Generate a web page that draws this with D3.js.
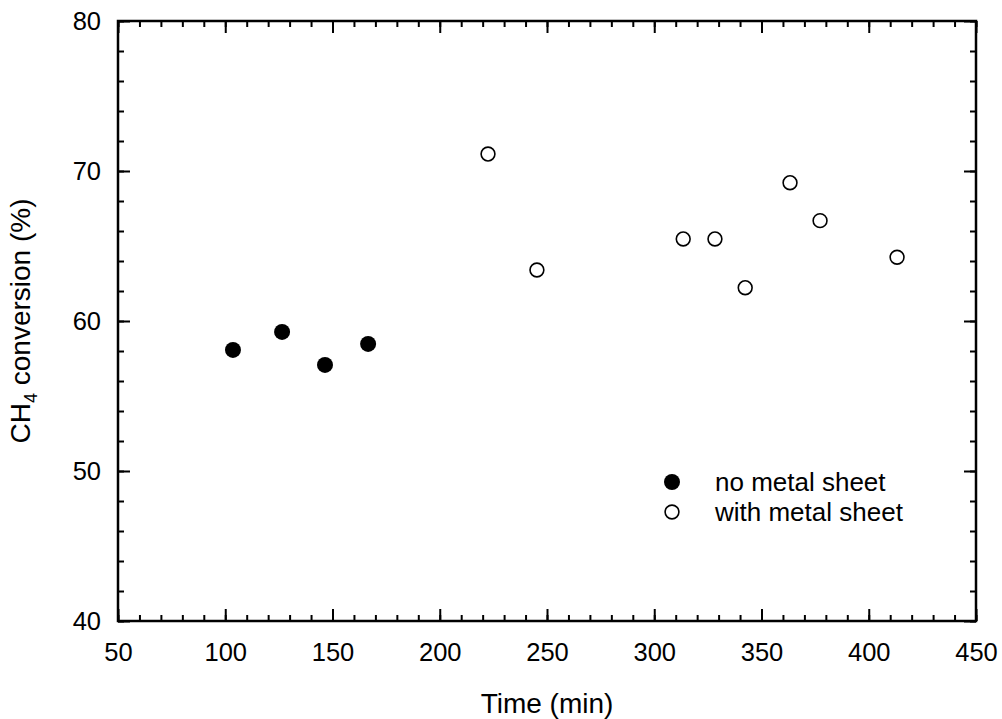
<!DOCTYPE html>
<html>
<head>
<meta charset="utf-8">
<script src="https://cdn.jsdelivr.net/npm/d3@7"></script>
<style>
  html, body { margin: 0; padding: 0; background: #fff; }
  svg { display: block; font-family: "Liberation Sans", Arial, sans-serif; }
</style>
</head>
<body>
<svg id="chart" width="1002" height="719"></svg>
<script>
// CH4 conversion over time, with and without the metal sheet
const timeNoSheet = [103.6, 126.5, 146.5, 166.6];
const convNoSheet = [58.07, 59.27, 57.07, 58.47];

const timeWithSheet = [222.5, 245.3, 313.5, 328.3, 342.4, 363.3, 377.3, 413.2];
const convWithSheet = [71.13, 63.4, 65.47, 65.47, 62.22, 69.22, 66.69, 64.25];

const xTickValues = [50, 100, 150, 200, 250, 300, 350, 400, 450];
const yTickValues = [40, 50, 60, 70, 80];

const legendLabels = ["no metal sheet", "with metal sheet"];

const svg = d3.select("#chart");
const margin = { left: 118, top: 21, right: 1002 - 976, bottom: 719 - 621 };
const W = 1002 - margin.left - margin.right;
const H = 719 - margin.top - margin.bottom;

const x = d3.scaleLinear().domain([50, 450]).range([0, W]);
const y = d3.scaleLinear().domain([40, 80]).range([H, 0]);

const g = svg.append("g").attr("transform", `translate(${margin.left},${margin.top})`);

const xMinor = d3.range(50, 451, 10);
const yMinor = d3.range(40, 81, 2);

const tickFont = "25.5px";
const legendFont = "26px";
const titleFont = "28px";

function styleAxis(sel) {
  sel.select(".domain").remove();
  sel.selectAll("line").attr("stroke", "#000").attr("stroke-width", 2);
  sel.selectAll("text").attr("fill", "#000").style("font-size", tickFont)
     .style("font-family", "'Liberation Sans', Arial, sans-serif");
}

// bottom axis: labels + inward ticks
g.append("g").attr("transform", `translate(0,${H})`)
  .call(d3.axisBottom(x).tickValues(xMinor).tickSize(-6).tickPadding(0).tickFormat(""))
  .call(styleAxis);
g.append("g").attr("transform", `translate(0,${H})`)
  .call(d3.axisBottom(x).tickValues(xTickValues).tickSize(-12).tickPadding(0).tickFormat(d3.format("d")))
  .call(styleAxis)
  .call(s => s.selectAll("text").attr("y", 40).attr("dy", null));

// top axis: inward ticks only
g.append("g")
  .call(d3.axisTop(x).tickValues(xMinor).tickSize(-6).tickFormat(""))
  .call(styleAxis);
g.append("g")
  .call(d3.axisTop(x).tickValues(xTickValues).tickSize(-12).tickFormat(""))
  .call(styleAxis);

// left axis
g.append("g")
  .call(d3.axisLeft(y).tickValues(yMinor).tickSize(-6).tickFormat(""))
  .call(styleAxis);
g.append("g")
  .call(d3.axisLeft(y).tickValues(yTickValues).tickSize(-12).tickPadding(17).tickFormat(d3.format("d")))
  .call(styleAxis);

// right axis
g.append("g").attr("transform", `translate(${W},0)`)
  .call(d3.axisRight(y).tickValues(yMinor).tickSize(-6).tickFormat(""))
  .call(styleAxis);
g.append("g").attr("transform", `translate(${W},0)`)
  .call(d3.axisRight(y).tickValues(yTickValues).tickSize(-12).tickFormat(""))
  .call(styleAxis);

// frame
g.append("rect").attr("x", 0).attr("y", 0).attr("width", W).attr("height", H)
  .attr("fill", "none").attr("stroke", "#000").attr("stroke-width", 2.5);

// data points
const noSheet = timeNoSheet.map((t, i) => ({ t, c: convNoSheet[i] }));
const withSheet = timeWithSheet.map((t, i) => ({ t, c: convWithSheet[i] }));

g.selectAll("circle.filled").data(noSheet).join("circle")
  .attr("class", "filled")
  .attr("cx", d => x(d.t)).attr("cy", d => y(d.c)).attr("r", 8)
  .attr("fill", "#000");

g.selectAll("circle.open").data(withSheet).join("circle")
  .attr("class", "open")
  .attr("cx", d => x(d.t)).attr("cy", d => y(d.c)).attr("r", 6.9)
  .attr("fill", "#fff").attr("stroke", "#000").attr("stroke-width", 1.6);

// legend
const legend = svg.append("g").attr("transform", "translate(672,482)");
legend.append("circle").attr("cx", 0).attr("cy", 0).attr("r", 8).attr("fill", "#000");
legend.append("circle").attr("cx", 0).attr("cy", 30).attr("r", 6.9)
  .attr("fill", "#fff").attr("stroke", "#000").attr("stroke-width", 1.6);
legend.selectAll("text").data(legendLabels).join("text")
  .attr("x", 43).attr("y", (d, i) => i * 30 + 9)
  .style("font-size", legendFont).attr("fill", "#000")
  .text(d => d);

// axis titles
svg.append("text")
  .attr("x", margin.left + W / 2).attr("y", 713)
  .attr("text-anchor", "middle").style("font-size", titleFont).attr("fill", "#000")
  .text("Time (min)");

const yTitle = svg.append("text")
  .attr("transform", `translate(30,${margin.top + H / 2}) rotate(-90)`)
  .attr("text-anchor", "middle").style("font-size", titleFont).attr("fill", "#000");
yTitle.append("tspan").text("CH");
yTitle.append("tspan").attr("dy", 7).style("font-size", "18px").text("4");
yTitle.append("tspan").attr("dy", -7).text(" conversion (%)");
</script>
</body>
</html>
